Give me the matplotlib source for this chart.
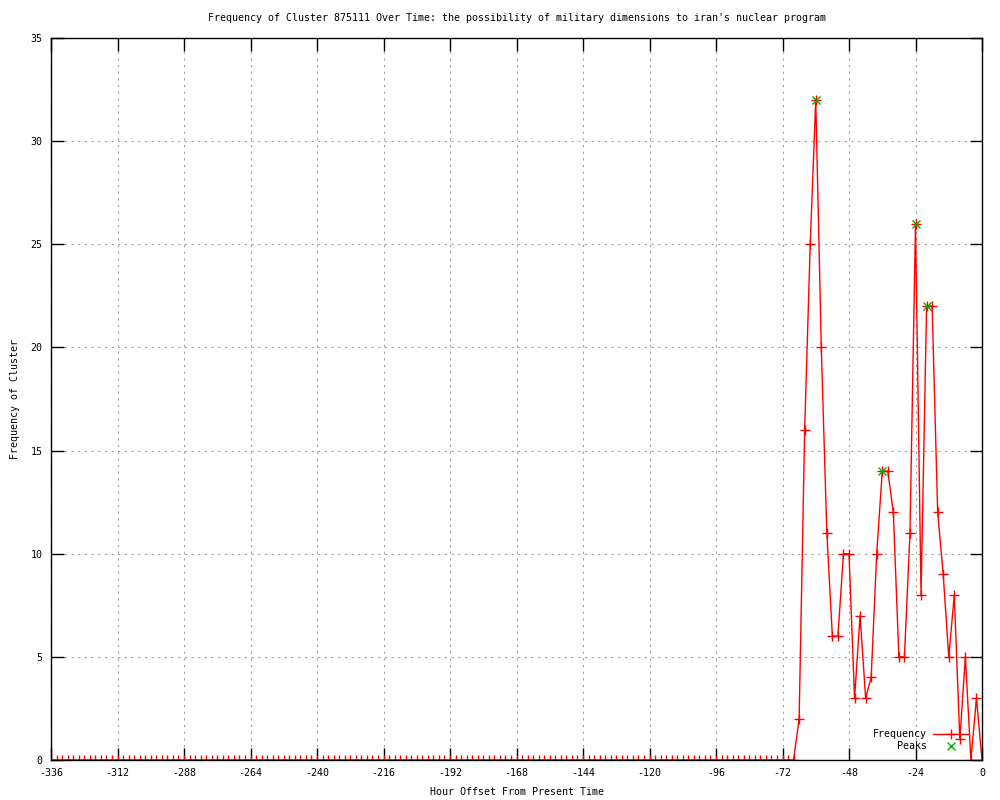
import numpy as np
import matplotlib
matplotlib.use("Agg")
from matplotlib import pyplot as plt

plt.rcParams['font.family'] = ['DejaVu Sans Mono']
plt.rcParams['axes.unicode_minus'] = False

title = "Frequency of Cluster 875111 Over Time: the possibility of military dimensions to iran's nuclear program"

# one point every 2 hours, -336 .. 0
hours = np.arange(-336, 1, 2)
freq = [0] * 134 + [0, 2, 16, 25, 32, 20, 11, 6, 6, 10, 10, 3, 7, 3, 4, 10, 14,
                    14, 12, 5, 5, 11, 26, 8, 22, 22, 12, 9, 5, 8, 1, 5, 0, 3, 0]

peak_hours = [-60, -36, -24, -20]
peak_freq = [32, 14, 26, 22]

fig = plt.figure(figsize=(10, 8), dpi=100)
ax = fig.add_axes([0.051, 0.05, 0.931, 0.9025])

ax.plot(hours, freq, color='red', lw=1, marker='+', ms=6.5, mew=1, label='Frequency')
ax.plot(peak_hours, peak_freq, ls='none', color='#00b000', marker='x', ms=5.5, mew=1, label='Peaks')

ax.set_xlim(-336, 0)
ax.set_ylim(0, 35)
ax.set_xticks(np.arange(-336, 1, 24))
ax.set_yticks(np.arange(0, 36, 5))
ax.tick_params(direction='in', length=9, width=1, top=True, right=True, labelsize=7.2, pad=6)
ax.grid(True, color='#a0a0a0', linestyle=(0, (2, 4)), lw=0.8)
for s in ax.spines.values():
    s.set_linewidth(1)

ax.set_title(title, fontsize=7.2, pad=12)
ax.set_xlabel("Hour Offset From Present Time", fontsize=7.2, labelpad=6)
ax.set_ylabel("Frequency of Cluster", fontsize=7.2, labelpad=8)

ax.legend(loc='lower right', bbox_to_anchor=(0.995, 0.0), frameon=False, markerfirst=False,
          fontsize=7.2, handlelength=3.5, handletextpad=0.6, labelspacing=0.2)

fig.savefig("out.png", dpi=100)
